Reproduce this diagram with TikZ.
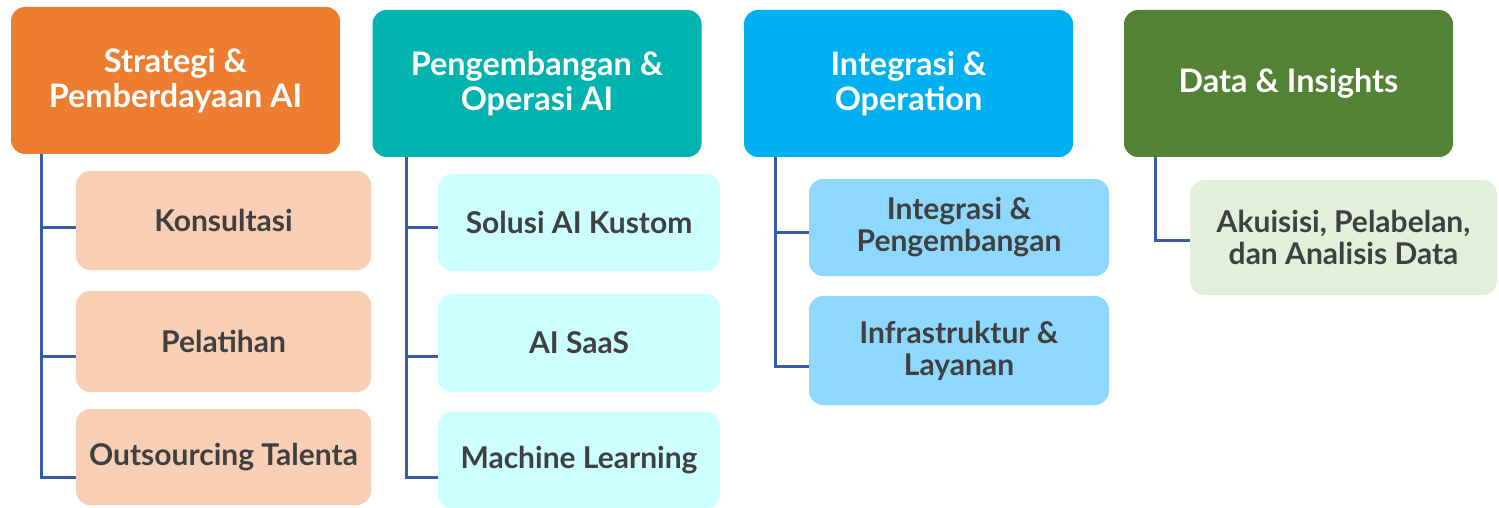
\documentclass[tikz,border=0pt]{standalone}
\usepackage{fontspec}
\setmainfont{Lato}
\usepackage{xcolor}
\usetikzlibrary{positioning,calc}

\definecolor{orangehead}{HTML}{ED7D31}
\definecolor{tealhead}{HTML}{00B3AF}
\definecolor{bluehead}{HTML}{00B0F0}
\definecolor{greenhead}{HTML}{548235}
\definecolor{orangeitem}{HTML}{F8CFB4}
\definecolor{tealitem}{HTML}{CCFFFF}
\definecolor{blueitem}{HTML}{8FD8FD}
\definecolor{greenitem}{HTML}{E2EFDA}
\definecolor{linkblue}{HTML}{3A5BA6}
\definecolor{itemtext}{HTML}{404040}

\begin{document}
\begin{tikzpicture}[x=0.5pt, y=-0.5pt,
    headbox/.style={rounded corners=7pt, align=center, text=white,
        font=\fontsize{16.2}{17.5}\selectfont\bfseries,
        minimum width=164.5pt, minimum height=73.5pt, inner sep=0pt},
    itembox/.style={rounded corners=7pt, align=center, text=itemtext,
        font=\fontsize{15}{16}\selectfont\bfseries, inner sep=0pt},
    link/.style={linkblue, line width=1.5pt}]
    \useasboundingbox (0,0) rectangle (1499,508);

    % Strategi
    \node [headbox, fill=orangehead] (strat) at (175.5,80.5) {Strategi \&\\Pemberdayaan AI};
    \node [itembox, fill=orangeitem, minimum width=147.5pt, minimum height=49.5pt] (konsul) at (223.5,220.5) {Konsultasi};
    \node [itembox, fill=orangeitem, minimum width=147.5pt, minimum height=50.5pt] (latih) at (223.5,341.5) {Pelatihan};
    \node [itembox, fill=orangeitem, minimum width=147.5pt, minimum height=48pt] (talent) at (223.5,457) {Outsourcing Talenta};
    \draw [link] ($(strat.south west)+(31,0)$) |- ($(konsul.west)+(0,6.5)$);
    \draw [link] ($(strat.south west)+(31,0)$) |- ($(latih.west)+(0,14.5)$);
    \draw [link] ($(strat.south west)+(31,0)$) |- ($(talent.west)+(0,20)$);

    % Pengembangan
    \node [headbox, fill=tealhead] (dev) at (537,83.5) {Pengembangan \&\\Operasi AI};
    \node [itembox, fill=tealitem, minimum width=141pt, minimum height=48.5pt] (custom) at (579,222.5) {Solusi AI Kustom};
    \node [itembox, fill=tealitem, minimum width=141pt, minimum height=49pt] (saas) at (579,343) {AI SaaS};
    \node [itembox, fill=tealitem, minimum width=141pt, minimum height=48pt] (ml) at (579,460) {Machine Learning};
    \draw [link] ($(dev.south west)+(34,0)$) |- ($(custom.west)+(0,4.5)$);
    \draw [link] ($(dev.south west)+(34,0)$) |- ($(saas.west)+(0,13)$);
    \draw [link] ($(dev.south west)+(34,0)$) |- ($(ml.west)+(0,17)$);

    % Integrasi
    \node [headbox, fill=bluehead] (integ) at (908.5,83.5) {Integrasi \&\\Operation};
    \node [itembox, fill=blueitem, minimum width=150pt, minimum height=48.5pt] (pengemb) at (959,227.5) {Integrasi \&\\Pengembangan};
    \node [itembox, fill=blueitem, minimum width=150pt, minimum height=54.5pt] (infra) at (959,350.5) {Infrastruktur \&\\Layanan};
    \draw [link] ($(integ.south west)+(32,0)$) |- ($(pengemb.west)+(0,4.5)$);
    \draw [link] ($(integ.south west)+(32,0)$) |- ($(infra.west)+(0,15.5)$);

    % Data
    \node [headbox, fill=greenhead] (data) at (1288.5,83.5) {Data \& Insights};
    \node [itembox, fill=greenitem, minimum width=153.5pt, minimum height=57.5pt] (akuisisi) at (1343.5,237.5) {Akuisisi, Pelabelan,\\dan Analisis Data};
    \draw [link] ($(data.south west)+(32,0)$) |- ($(akuisisi.west)+(0,2.5)$);
\end{tikzpicture}
\end{document}
